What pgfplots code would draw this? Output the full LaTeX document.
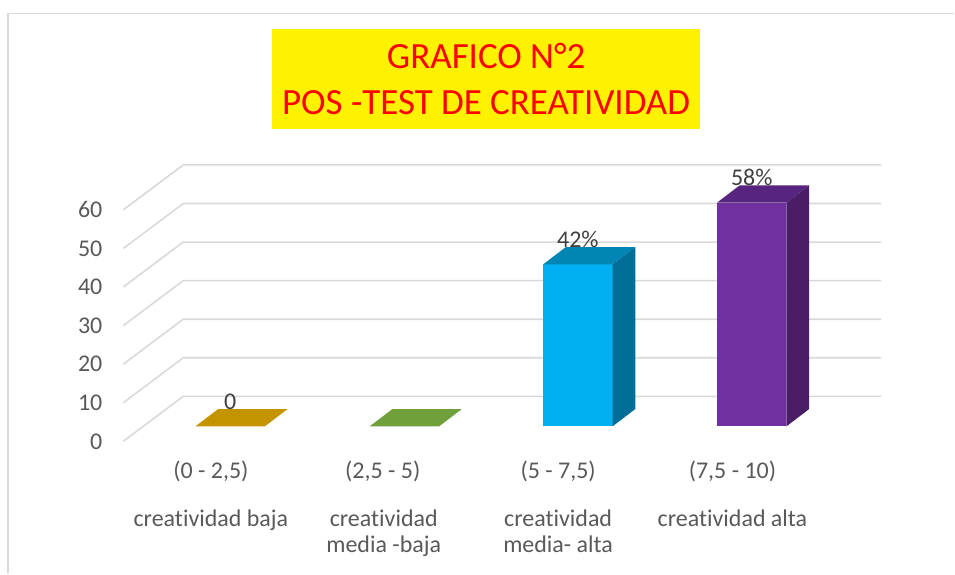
\documentclass[border=0pt]{standalone}
\usepackage{pgfplots}
\pgfplotsset{compat=1.18}
\usepackage{pgfplotstable}
\usepackage{fontspec}
\setmainfont[Ligatures=NoCommon]{Carlito}
\definecolor{gridc}{HTML}{D9D9D9}
\definecolor{tickc}{HTML}{595959}
\definecolor{lblc}{HTML}{404040}
\definecolor{goldtop}{HTML}{C49400}
\definecolor{greentop}{HTML}{6FA03C}
\definecolor{cyanfront}{HTML}{00B0F0}
\definecolor{cyantop}{HTML}{0085B5}
\definecolor{cyanside}{HTML}{006E97}
\definecolor{purpfront}{HTML}{7030A0}
\definecolor{purptop}{HTML}{57247F}
\definecolor{purpside}{HTML}{4A1E66}

% grid line shape (front end, back corner, back right end), offsets in value units
\pgfplotstableread{
x d
123.3 -3.886
183.3 7.77
881.7 7.77
}\gridtab

% data labels: bar front centre and value
\pgfplotstableread{
x v lab
230.3 0 0
578.3 42 42\%
752.3 58 58\%
}\labtab

\begin{document}
\begin{tikzpicture}
\begin{axis}[
  width=955bp, height=574bp, scale only axis,
  xmin=0, xmax=955, ymin=-38.16, ymax=110.54,
  clip=false,
  axis line style={draw=none},
  xtick=\empty,
  ytick={-3.886,6.114,16.114,26.114,36.114,46.114,56.114},
  yticklabels={\textnormal{0},\textnormal{10},\textnormal{20},\textnormal{30},\textnormal{40},\textnormal{50},\textnormal{60}},
  major tick length=0pt,
  yticklabel style={anchor=east, inner sep=0pt, xshift=102.5bp,
    font=\fontsize{24bp}{24bp}\selectfont, text=tickc},
]
% bounding box
\addplot[draw=none] coordinates {(0,-38.16) (955,110.54)};
% outer frame
\addplot[gridc, line width=1.5bp] coordinates {(8,-38.16) (8,107.05) (955,107.05)};
% title box
\addplot[fill=yellow, draw=none] coordinates {(272,77.12) (701,77.12) (701,103.03) (272,103.03)} -- cycle;
\node[anchor=base, text=red, font=\fontsize{37bp}{37bp}\selectfont] at (axis cs:486.5,92.67) {GRAFICO N°2};
\node[anchor=base, text=red, font=\fontsize{37bp}{37bp}\selectfont] at (axis cs:486.5,80.75) {POS -TEST DE CREATIVIDAD};
% grid lines
\pgfplotsinvokeforeach{0,10,20,30,40,50,60}{
  \addplot[gridc, line width=1.6bp] table[x=x, y expr=\thisrow{d}+#1] {\gridtab};
}
% bar 1 (0): only top face
\addplot[fill=goldtop, draw=none] coordinates {(195.55,0) (265.05,0) (287.75,4.48) (218.25,4.48)} -- cycle;
% bar 2 (0): only top face
\addplot[fill=greentop, draw=none] coordinates {(369.95,0) (439.45,0) (462.15,4.48) (392.65,4.48)} -- cycle;
% bar 3 (42)
\addplot[ybar, bar width=69.5, bar shift=0pt, fill=cyanfront, draw=none] coordinates {(578.3,42)};
\addplot[fill=cyantop, draw=none] coordinates {(543.55,42) (613.05,42) (635.75,46.48) (566.25,46.48)} -- cycle;
\addplot[fill=cyanside, draw=none] coordinates {(613.05,0) (613.05,42) (635.75,46.48) (635.75,4.48)} -- cycle;
% bar 4 (58)
\addplot[ybar, bar width=69.5, bar shift=0pt, fill=purpfront, draw=none] coordinates {(752.3,58)};
\addplot[fill=purptop, draw=none] coordinates {(717.55,58) (787.05,58) (809.75,62.48) (740.25,62.48)} -- cycle;
\addplot[fill=purpside, draw=none] coordinates {(787.05,0) (787.05,58) (809.75,62.48) (809.75,4.48)} -- cycle;
% data labels
\addplot[draw=none, nodes near coords, point meta=explicit symbolic,
  every node near coord/.append style={anchor=base, inner sep=0pt,
    font=\fontsize{24bp}{24bp}\selectfont, text=lblc}]
  table[x=x, y expr=\thisrow{v}+4.48, meta=lab] {\labtab};
% category labels
\begin{scope}[every node/.style={anchor=base, text=tickc, font=\fontsize{24bp}{24bp}\selectfont}]
\node at (axis cs:211,-13.6) {(0 - 2,5)};
\node at (axis cs:383,-13.6) {(2,5 - 5)};
\node at (axis cs:558.5,-13.6) {(5 - 7,5)};
\node at (axis cs:733,-13.6) {(7,5 - 10)};
\node at (axis cs:211,-25.9) {creatividad baja};
\node at (axis cs:384,-25.9) {creatividad};
\node at (axis cs:384,-32.72) {media -baja};
\node at (axis cs:558.5,-25.9) {creatividad};
\node at (axis cs:558.5,-32.72) {media- alta};
\node at (axis cs:733,-25.9) {creatividad alta};
\end{scope}
\end{axis}
\end{tikzpicture}
\end{document}
